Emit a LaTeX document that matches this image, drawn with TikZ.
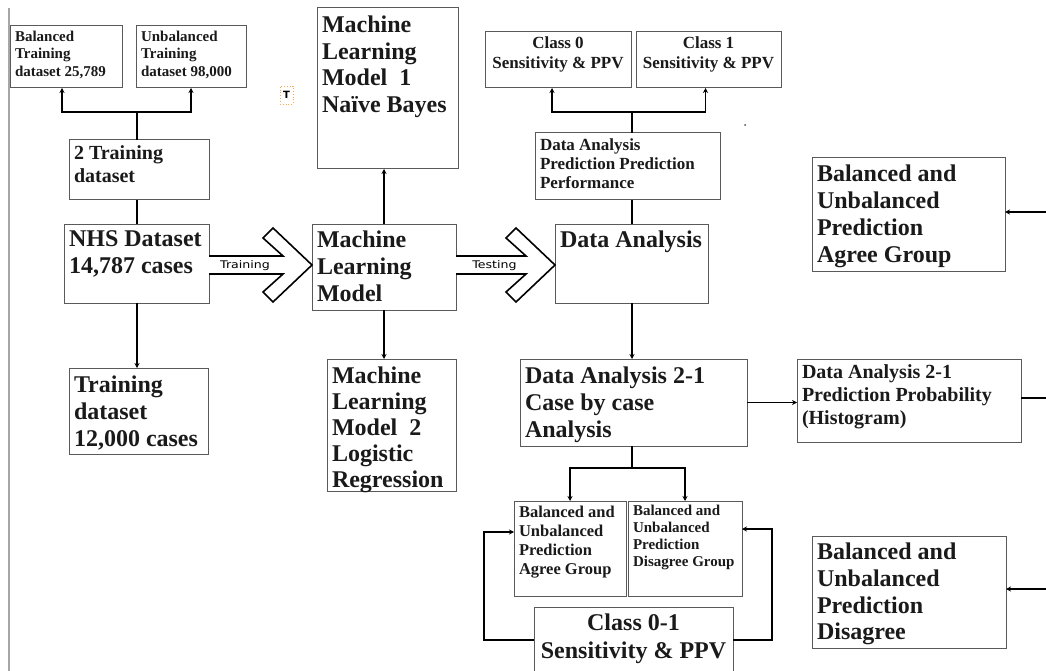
\documentclass[tikz,border=0pt]{standalone}
\usepackage{fontspec}
\usepackage{graphicx}
\setmainfont{Liberation Serif}
\newfontfamily\lblfont{DejaVu Sans}
\usetikzlibrary{arrows.meta,calc}
\definecolor{boxgray}{HTML}{5A5A5A}
\definecolor{txt}{HTML}{1A1A1A}
% #1 width, #2 height, #3 font size, #4 leading, #5 top pad, #6 text
\newcommand{\bt}[6]{\parbox[c][#2pt][t]{#1pt}{\fontsize{#3}{#4}\selectfont\bfseries\color{txt}\raggedright\leftskip=5pt\vspace*{#5pt}#6}}
\newcommand{\btc}[6]{\parbox[c][#2pt][t]{#1pt}{\fontsize{#3}{#4}\selectfont\bfseries\color{txt}\centering\vspace*{#5pt}#6}}
\tikzset{
  box/.style={draw=boxgray, line width=1pt, fill=white, inner sep=0pt, outer sep=0pt, anchor=north west},
  conn/.style={line width=1.8pt, black},
  arr/.style={conn, -{Stealth[length=5pt,width=5pt]}},
  blockarrow/.style={draw=black, fill=white, line width=1.6pt, line join=miter},
  lbl/.style={inner sep=0pt}
}
\begin{document}
\begin{tikzpicture}[x=1pt,y=-1pt]
\useasboundingbox (0,0) rectangle (1046,671);
\clip (0,0) rectangle (1046,671);
\fill[white] (0,0) rectangle (1046,671);
% left border line
\coordinate (lt) at (9,8);
\coordinate (lb) at (9,671);
\draw[gray!70, line width=1.5pt] (lt) -- (lb);

% boxes
\node[box] (bal) at (10,26) {\bt{112}{62}{15}{17.5}{5}{Balanced\\Training\\dataset 25,789}};
\node[box] (unbal) at (136,26) {\bt{110}{62}{15}{17.5}{5}{Unbalanced\\Training\\dataset 98,000}};
\node[box] (twotr) at (69,140) {\bt{140}{60}{20}{23}{6}{2 Training\\dataset}};
\node[box] (nhs) at (64,224) {\bt{145}{79}{24}{26.5}{7}{NHS Dataset\\14,787 cases}};
\node[box] (tr12) at (69,368) {\bt{139}{86}{24}{27}{8}{Training\\dataset\\12,000 cases}};
\node[box] (nb) at (317,8) {\bt{141}{161}{24}{26.5}{8}{Machine\\Learning\\Model~~1\\Naïve Bayes}};
\node[box] (mlm) at (312,224) {\bt{144}{86}{24}{27}{7}{Machine\\Learning\\Model}};
\node[box] (lr) at (327,359) {\bt{129}{132}{24}{26}{8}{Machine\\Learning\\Model~~2\\Logistic\\Regression}};
\node[box] (c0) at (485,32) {\btc{146}{56}{17}{20}{5}{Class 0\\Sensitivity \& PPV}};
\node[box] (c1) at (636,32) {\btc{145}{56}{17}{20}{5}{Class 1\\Sensitivity \& PPV}};
\node[box] (dapp) at (535,133) {\bt{185}{67}{17}{19}{6}{Data Analysis\\Prediction Prediction\\Performance}};
\node[box] (da) at (555,224) {\bt{153}{79}{24}{27}{7}{Data Analysis}};
\node[box] (da21) at (520,359) {\bt{227}{87}{24}{26.7}{8}{Data Analysis 2-1\\Case by case\\Analysis}};
\node[box] (hist) at (797,359) {\bt{224}{83}{20}{22.7}{6}{Data Analysis 2-1\\Prediction Probability\\(Histogram)}};
\node[box] (agR) at (812,158) {\bt{193}{113}{24}{27}{7}{Balanced and\\Unbalanced\\Prediction\\Agree Group}};
\node[box] (disR) at (812,536) {\bt{194}{112}{24}{26.7}{7}{Balanced and\\Unbalanced\\Prediction\\Disagree}};
\node[box] (agS) at (514,501) {\bt{112}{95}{16.5}{19}{5}{Balanced and\\Unbalanced\\Prediction\\Agree Group}};
\node[box] (diS) at (628,501) {\bt{114}{95}{15}{17}{4}{Balanced and\\Unbalanced\\Prediction\\Disagree Group}};
\node[box] (c01) at (534,607) {\btc{199}{75}{24}{28}{7}{Class 0-1\\Sensitivity \& PPV}};

% stray text marker and dot
\node[draw=orange!70, dotted, line width=0.8pt, inner sep=0pt, minimum width=13pt, minimum height=18pt,
      font=\lblfont\bfseries\fontsize{10}{11}\selectfont] (tmark) at (286.5,95) {T};
\node[circle, fill=black!70, inner sep=0pt, minimum size=2pt] (dot) at (745,125) {};

% block arrows
\coordinate (ay) at (0,265);
\coordinate (s1) at (nhs.east |- ay);
\coordinate (t1) at (mlm.west |- ay);
\draw[blockarrow] ($(s1)+(0,-9)$) -- ($(t1)+(-29,-9)$) -- ($(t1)+(-49,-27)$) -- ($(t1)+(-39,-37)$) -- (t1)
  -- ($(t1)+(-39,37)$) -- ($(t1)+(-49,27)$) -- ($(t1)+(-29,9)$) -- ($(s1)+(0,9)$);
\node[lbl] (trl) at (245,266) {\scalebox{1.2}[1]{\lblfont\fontsize{10.5}{12}\selectfont Training}};
\coordinate (s2) at (mlm.east |- ay);
\coordinate (t2) at (da.west |- ay);
\draw[blockarrow] ($(s2)+(0,-9)$) -- ($(t2)+(-29,-9)$) -- ($(t2)+(-49,-27)$) -- ($(t2)+(-39,-37)$) -- (t2)
  -- ($(t2)+(-39,37)$) -- ($(t2)+(-49,27)$) -- ($(t2)+(-29,9)$) -- ($(s2)+(0,9)$);
\node[lbl] (tel) at (494.5,266) {\scalebox{1.2}[1]{\lblfont\fontsize{10.5}{12}\selectfont Testing}};

% connectors, left part
\coordinate (j1) at (137,112);
\draw[conn] (j1 |- twotr.north) -- (j1);
\draw[arr] (j1) -| ([xshift=-4pt]bal.south);
\draw[arr] (j1) -| (unbal.south);
\draw[conn] (j1 |- twotr.south) -- (j1 |- nhs.north);
\draw[arr] (j1 |- nhs.south) -- (j1 |- tr12.north);

% model
\draw[arr] (mlm.north) -- (mlm.north |- nb.south);
\draw[arr] (mlm.south) -- (mlm.south |- lr.north);

% data analysis
\coordinate (j2) at (632,112);
\draw[conn] (j2 |- da.north) -- (j2 |- dapp.south);
\draw[conn] (j2 |- dapp.north) -- (j2);
\draw[arr] (j2) -| ([xshift=-6pt]c0.south);
\draw[arr] (j2) -| ([xshift=-3pt]c1.south);
\draw[arr] (j2 |- da.south) -- (j2 |- da21.north);
\draw[arr] (da21.east) -- (da21.east -| hist.west);

% right edge stubs
\coordinate (e1) at (1046,212);
\draw[arr] (e1) -- (e1 -| agR.east);
\coordinate (e2) at (1046,398);
\draw[conn] (e2 -| hist.east) -- (e2);
\coordinate (e3) at (1046,589);
\draw[arr] (e3) -- (e3 -| disR.east);

% case by case split
\coordinate (j3) at (632,468);
\draw[conn] (j3 |- da21.south) -- (j3);
\draw[arr] (j3) -| (agS.north);
\draw[arr] (j3) -| (diS.north);

% loops from Class 0-1
\coordinate (l1) at (484,640);
\coordinate (l2) at (484,532);
\draw[arr] (l1 -| c01.west) -- (l1) -- (l2) -- (l2 -| agS.west);
\coordinate (r1) at (772,640);
\coordinate (r2) at (772,529);
\draw[arr] (r1 -| c01.east) -- (r1) -- (r2) -- (r2 -| diS.east);
\end{tikzpicture}
\end{document}
